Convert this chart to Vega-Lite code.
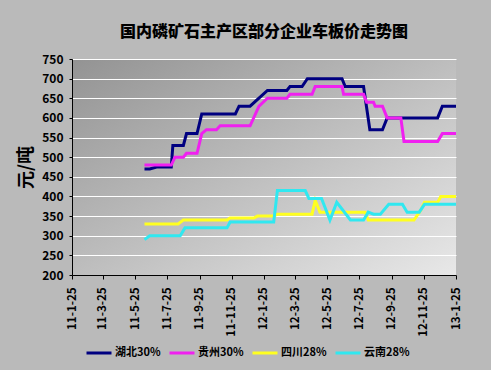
{
  "$schema": "https://vega.github.io/schema/vega-lite/v6.json",
  "width": 384,
  "height": 216,
  "autosize": {"type": "none"},
  "padding": {"left": 72, "top": 59, "right": 35, "bottom": 95},
  "background": "#bababa",
  "title": {
    "text": "国内磷矿石主产区部分企业车板价走势图",
    "font": "Noto Sans CJK SC",
    "fontSize": 16,
    "fontWeight": 900,
    "color": "#000000",
    "offset": 13,
    "anchor": "middle"
  },
  "config": {
    "view": {
      "stroke": null,
      "fill": {
        "gradient": "linear",
        "x1": 0, "y1": 0, "x2": 1, "y2": 1,
        "stops": [
          {"offset": 0, "color": "#939393"},
          {"offset": 1, "color": "#e8e8e8"}
        ]
      }
    },
    "axis": {
      "domainColor": "#000000",
      "tickColor": "#000000",
      "labelColor": "#000000",
      "titleColor": "#000000",
      "labelFont": "Noto Sans CJK SC",
      "titleFont": "Noto Sans CJK SC",
      "labelFontWeight": "bold",
      "titleFontWeight": "bold"
    }
  },
  "data": {
    "values": [
      {"series": "湖北30%", "date": "2011/06/12", "price": 470},
      {"series": "湖北30%", "date": "2011/06/22", "price": 470},
      {"series": "湖北30%", "date": "2011/07/05", "price": 475},
      {"series": "湖北30%", "date": "2011/08/02", "price": 475},
      {"series": "湖北30%", "date": "2011/08/05", "price": 530},
      {"series": "湖北30%", "date": "2011/08/25", "price": 530},
      {"series": "湖北30%", "date": "2011/08/31", "price": 560},
      {"series": "湖北30%", "date": "2011/09/20", "price": 560},
      {"series": "湖北30%", "date": "2011/09/29", "price": 610},
      {"series": "湖北30%", "date": "2011/12/02", "price": 610},
      {"series": "湖北30%", "date": "2011/12/09", "price": 630},
      {"series": "湖北30%", "date": "2011/12/30", "price": 630},
      {"series": "湖北30%", "date": "2012/02/01", "price": 670},
      {"series": "湖北30%", "date": "2012/03/09", "price": 670},
      {"series": "湖北30%", "date": "2012/03/15", "price": 680},
      {"series": "湖北30%", "date": "2012/04/07", "price": 680},
      {"series": "湖北30%", "date": "2012/04/17", "price": 700},
      {"series": "湖北30%", "date": "2012/06/22", "price": 700},
      {"series": "湖北30%", "date": "2012/06/28", "price": 680},
      {"series": "湖北30%", "date": "2012/08/02", "price": 680},
      {"series": "湖北30%", "date": "2012/08/14", "price": 570},
      {"series": "湖北30%", "date": "2012/09/07", "price": 570},
      {"series": "湖北30%", "date": "2012/09/16", "price": 600},
      {"series": "湖北30%", "date": "2012/12/21", "price": 600},
      {"series": "湖北30%", "date": "2012/12/30", "price": 630},
      {"series": "湖北30%", "date": "2013/01/25", "price": 630},

      {"series": "贵州30%", "date": "2011/06/12", "price": 480},
      {"series": "贵州30%", "date": "2011/08/02", "price": 480},
      {"series": "贵州30%", "date": "2011/08/09", "price": 500},
      {"series": "贵州30%", "date": "2011/08/25", "price": 500},
      {"series": "贵州30%", "date": "2011/08/31", "price": 510},
      {"series": "贵州30%", "date": "2011/09/20", "price": 510},
      {"series": "贵州30%", "date": "2011/09/29", "price": 560},
      {"series": "贵州30%", "date": "2011/10/08", "price": 570},
      {"series": "贵州30%", "date": "2011/10/27", "price": 570},
      {"series": "贵州30%", "date": "2011/11/03", "price": 580},
      {"series": "贵州30%", "date": "2011/12/30", "price": 580},
      {"series": "贵州30%", "date": "2012/01/16", "price": 630},
      {"series": "贵州30%", "date": "2012/02/01", "price": 650},
      {"series": "贵州30%", "date": "2012/03/09", "price": 650},
      {"series": "贵州30%", "date": "2012/03/15", "price": 660},
      {"series": "贵州30%", "date": "2012/04/26", "price": 660},
      {"series": "贵州30%", "date": "2012/05/02", "price": 680},
      {"series": "贵州30%", "date": "2012/06/22", "price": 680},
      {"series": "贵州30%", "date": "2012/06/25", "price": 660},
      {"series": "贵州30%", "date": "2012/08/02", "price": 660},
      {"series": "贵州30%", "date": "2012/08/08", "price": 640},
      {"series": "贵州30%", "date": "2012/08/21", "price": 640},
      {"series": "贵州30%", "date": "2012/08/24", "price": 630},
      {"series": "贵州30%", "date": "2012/09/07", "price": 630},
      {"series": "贵州30%", "date": "2012/09/16", "price": 600},
      {"series": "贵州30%", "date": "2012/10/12", "price": 600},
      {"series": "贵州30%", "date": "2012/10/18", "price": 540},
      {"series": "贵州30%", "date": "2012/12/21", "price": 540},
      {"series": "贵州30%", "date": "2012/12/30", "price": 560},
      {"series": "贵州30%", "date": "2013/01/25", "price": 560},

      {"series": "四川28%", "date": "2011/06/12", "price": 330},
      {"series": "四川28%", "date": "2011/08/15", "price": 330},
      {"series": "四川28%", "date": "2011/08/25", "price": 340},
      {"series": "四川28%", "date": "2011/11/16", "price": 340},
      {"series": "四川28%", "date": "2011/11/22", "price": 345},
      {"series": "四川28%", "date": "2012/01/06", "price": 345},
      {"series": "四川28%", "date": "2012/01/13", "price": 350},
      {"series": "四川28%", "date": "2012/02/13", "price": 350},
      {"series": "四川28%", "date": "2012/02/20", "price": 355},
      {"series": "四川28%", "date": "2012/04/26", "price": 355},
      {"series": "四川28%", "date": "2012/05/02", "price": 390},
      {"series": "四川28%", "date": "2012/05/11", "price": 360},
      {"series": "四川28%", "date": "2012/08/05", "price": 360},
      {"series": "四川28%", "date": "2012/08/11", "price": 340},
      {"series": "四川28%", "date": "2012/11/06", "price": 340},
      {"series": "四川28%", "date": "2012/11/19", "price": 365},
      {"series": "四川28%", "date": "2012/11/26", "price": 385},
      {"series": "四川28%", "date": "2012/12/21", "price": 385},
      {"series": "四川28%", "date": "2012/12/27", "price": 400},
      {"series": "四川28%", "date": "2013/01/25", "price": 400},

      {"series": "云南28%", "date": "2011/06/12", "price": 290},
      {"series": "云南28%", "date": "2011/06/22", "price": 300},
      {"series": "云南28%", "date": "2011/08/19", "price": 300},
      {"series": "云南28%", "date": "2011/08/28", "price": 320},
      {"series": "云南28%", "date": "2011/11/16", "price": 320},
      {"series": "云南28%", "date": "2011/11/22", "price": 335},
      {"series": "云南28%", "date": "2012/02/13", "price": 335},
      {"series": "云南28%", "date": "2012/02/20", "price": 415},
      {"series": "云南28%", "date": "2012/04/13", "price": 415},
      {"series": "云南28%", "date": "2012/04/20", "price": 395},
      {"series": "云南28%", "date": "2012/05/14", "price": 395},
      {"series": "云南28%", "date": "2012/05/30", "price": 340},
      {"series": "云南28%", "date": "2012/06/12", "price": 385},
      {"series": "云南28%", "date": "2012/07/08", "price": 340},
      {"series": "云南28%", "date": "2012/08/02", "price": 340},
      {"series": "云南28%", "date": "2012/08/11", "price": 360},
      {"series": "云南28%", "date": "2012/08/21", "price": 355},
      {"series": "云南28%", "date": "2012/09/03", "price": 355},
      {"series": "云南28%", "date": "2012/09/19", "price": 380},
      {"series": "云南28%", "date": "2012/10/15", "price": 380},
      {"series": "云南28%", "date": "2012/10/24", "price": 360},
      {"series": "云南28%", "date": "2012/11/16", "price": 360},
      {"series": "云南28%", "date": "2012/11/26", "price": 380},
      {"series": "云南28%", "date": "2013/01/25", "price": 380}
    ]
  },
  "mark": {"type": "line", "strokeWidth": 3, "clip": true},
  "encoding": {
    "x": {
      "field": "date",
      "type": "temporal",
      "scale": {
        "domain": [
          {"year": 2011, "month": 1, "date": 25},
          {"year": 2013, "month": 1, "date": 25}
        ]
      },
      "axis": {
        "title": null,
        "grid": false,
        "values": [
          {"year": 2011, "month": 1, "date": 25},
          {"year": 2011, "month": 3, "date": 25},
          {"year": 2011, "month": 5, "date": 25},
          {"year": 2011, "month": 7, "date": 25},
          {"year": 2011, "month": 9, "date": 25},
          {"year": 2011, "month": 11, "date": 25},
          {"year": 2012, "month": 1, "date": 25},
          {"year": 2012, "month": 3, "date": 25},
          {"year": 2012, "month": 5, "date": 25},
          {"year": 2012, "month": 7, "date": 25},
          {"year": 2012, "month": 9, "date": 25},
          {"year": 2012, "month": 11, "date": 25},
          {"year": 2013, "month": 1, "date": 25}
        ],
        "format": "%y-%-m-%d",
        "labelAngle": 270,
        "labelFontSize": 11.5,
        "labelPadding": 8,
        "tickSize": 4,
        "labelOverlap": false,
        "labelFlush": false
      }
    },
    "y": {
      "field": "price",
      "type": "quantitative",
      "scale": {"domain": [200, 750], "nice": false, "zero": false},
      "axis": {
        "title": "元/吨",
        "titleFontSize": 18,
        "titlePadding": 6,
        "values": [200, 250, 300, 350, 400, 450, 500, 550, 600, 650, 700, 750],
        "grid": true,
        "gridColor": "#ffffff",
        "gridWidth": 1,
        "gridOpacity": 1,
        "labelFontSize": 12,
        "labelPadding": 6,
        "tickSize": 3
      }
    },
    "color": {
      "field": "series",
      "type": "nominal",
      "sort": null,
      "scale": {
        "domain": ["湖北30%", "贵州30%", "四川28%", "云南28%"],
        "range": ["#000080", "#f020f0", "#ffff20", "#30e8f0"]
      },
      "legend": {
        "title": null,
        "orient": "none",
        "legendX": 13,
        "legendY": 280,
        "direction": "horizontal",
        "columns": 4,
        "symbolType": "stroke",
        "symbolStrokeWidth": 3,
        "symbolSize": 625,
        "labelFont": "Noto Sans CJK SC",
        "labelFontSize": 11,
        "labelFontWeight": "bold",
        "labelColor": "#000000",
        "labelOffset": 2,
        "columnPadding": 2
      }
    }
  }
}
